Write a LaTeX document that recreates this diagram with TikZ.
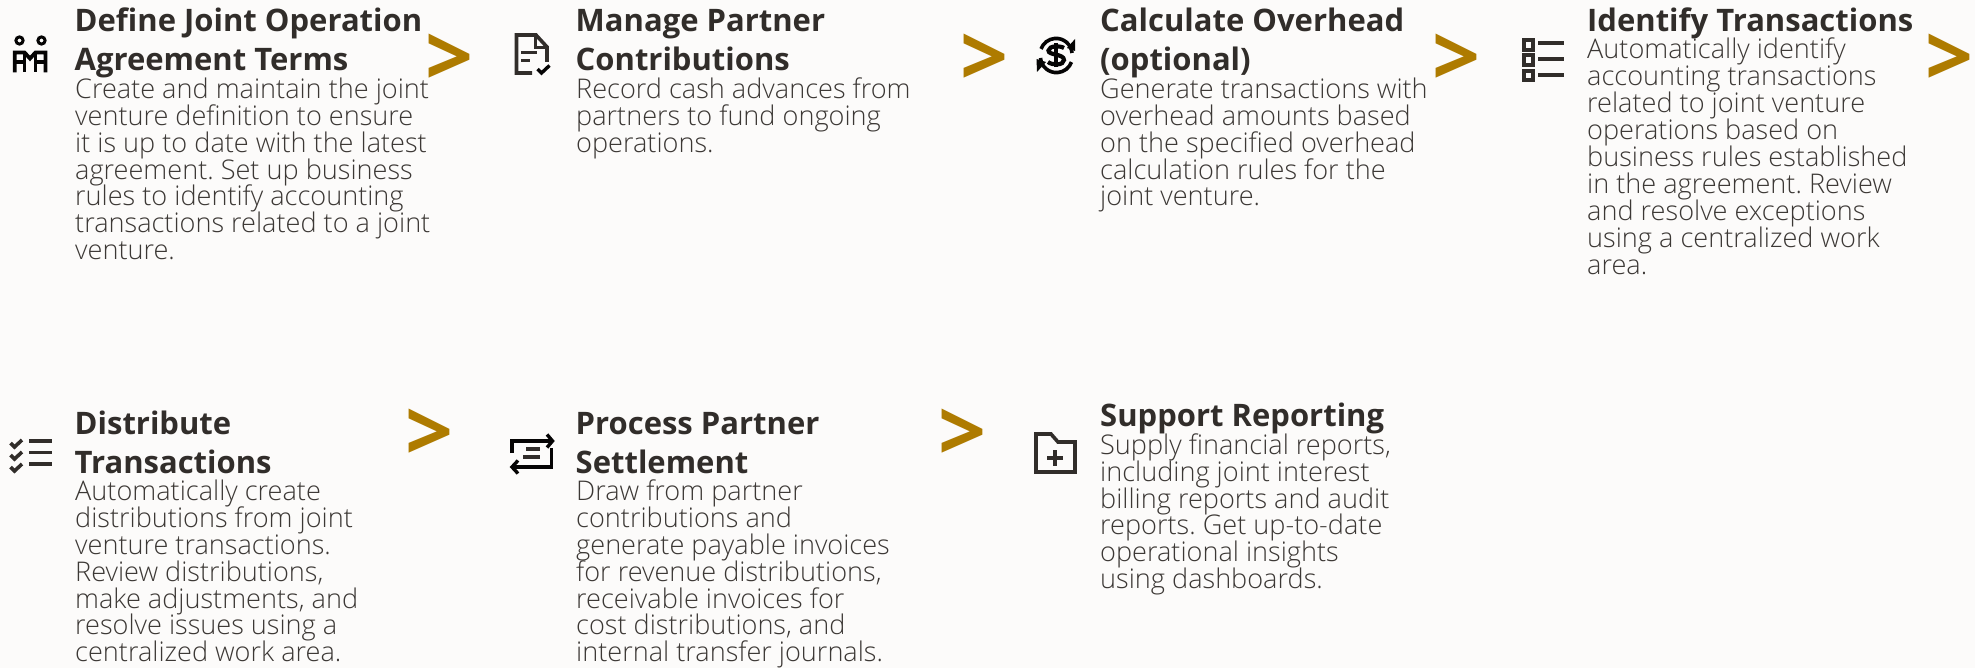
\documentclass[tikz,border=0pt]{standalone}
\usepackage{fontspec}
\setmainfont{Open Sans}
\newfontfamily\lightf{Open Sans Light}
\definecolor{bgc}{HTML}{FCFBFA}
\definecolor{ink}{HTML}{312D2A}
\definecolor{bodyc}{HTML}{3C3835}
\definecolor{gold}{HTML}{AE7B00}
\newcommand{\fl}{\rule{0pt}{30pt}}
\newcommand{\tightl}{\lineskiplimit=-100pt\relax}
\tikzset{
 title/.style={anchor=north west,inner sep=0pt,align=left,text=ink,font=\fontsize{31}{39}\selectfont\bfseries\frenchspacing\tightl},
 body/.style={anchor=north west,inner sep=0pt,align=left,text=bodyc,font=\fontsize{27.1}{26.9}\selectfont\lightf\frenchspacing\tightl},
 chev/.style={anchor=center,inner sep=0pt,text=gold,font=\fontsize{84}{84}\selectfont\bfseries},
 ic/.style={draw=ink,line width=3.6pt,fill=none,line cap=butt,line join=miter},
 icb/.style={draw=black!90!ink,line width=3.6pt,fill=none,line cap=butt,line join=miter},
}
\begin{document}
\begin{tikzpicture}[x=1pt,y=-1pt]
\useasboundingbox (0,0) rectangle (1975,668);
\fill[bgc] (0,0) rectangle (1975,668);
% --- texts (north west = first baseline - 30)
\node[title] (t1) at (74.5,1) {\fl Define Joint Operation\\Agreement Terms};
\node[body] (b1) at (75,68.2) {\fl Create and maintain the joint\\venture definition to ensure\\it is up to date with the latest\\agreement. Set up business\\rules to identify accounting\\transactions related to a joint\\venture.};
\node[title] (t2) at (575.5,1) {\fl Manage Partner\\Contributions};
\node[body] (b2) at (576,68.2) {\fl Record cash advances from\\partners to fund ongoing\\operations.};
\node[title] (t3) at (1100,1) {\fl Calculate Overhead\\(optional)};
\node[body] (b3) at (1100,68.2) {\fl Generate transactions with\\overhead amounts based\\on the specified overhead\\calculation rules for the\\joint venture.};
\node[title] (t4) at (1587,1) {\fl Identify Transactions};
\node[body] (b4) at (1587,28.8) {\fl Automatically identify\\accounting transactions\\related to joint venture\\operations based on\\business rules established\\in the agreement. Review\\and resolve exceptions\\using a centralized work\\area.};
\node[title] (t5) at (74.5,404) {\fl Distribute\\Transactions};
\node[body] (b5) at (75,470.2) {\fl Automatically create\\distributions from joint\\venture transactions.\\Review distributions,\\make adjustments, and\\resolve issues using a\\centralized work area.};
\node[title] (t6) at (575.5,404) {\fl Process Partner\\Settlement};
\node[body] (b6) at (576,470.2) {\fl Draw from partner\\contributions and\\generate payable invoices\\for revenue distributions,\\receivable invoices for\\cost distributions, and\\internal transfer journals.};
\node[title] (t7) at (1100,396) {\fl Support Reporting};
\node[body] (b7) at (1100,424) {\fl Supply financial reports,\\including joint interest\\billing reports and audit\\reports. Get up-to-date\\operational insights\\using dashboards.};
% --- chevrons
\node[chev] (a1) at (449,60) {>};
\node[chev] (a2) at (984.5,60) {>};
\node[chev] (a3) at (1456.5,60) {>};
\node[chev] (a4) at (1949.5,60) {>};
\node[chev] (a5) at (429.5,435.5) {>};
\node[chev] (a6) at (962,435.5) {>};
% --- icon 1: two people
\begin{scope}[icb,line width=3.8pt]
 \draw[line width=3pt] (19.5,40.5) circle (3.6);
 \draw[line width=3pt] (41.5,40.5) circle (3.6);
 \draw (14.8,72.5) -- (14.8,52.5) -- (24.5,52.5) -- (30,58.5) -- (35.5,52.5) -- (45.5,52.5) -- (45.5,72.5);
 \draw (24.5,52.5) -- (24.5,72.5);
 \draw (35.5,52.5) -- (35.5,72.5);
 \draw (14.8,62) -- (24.5,62);
 \draw (35.5,62) -- (45.5,62);
\end{scope}
% --- icon 2: document with check
\draw[ic] (532,73) -- (516.5,73) -- (516.5,35) -- (536,35) -- (547,47) -- (547,62);
\draw[ic,line width=3pt] (535.5,35) -- (535.5,47.5) -- (547,47.5);
\draw[ic,line width=3pt] (521,53) -- (537,53);
\draw[ic,line width=3pt] (521,61) -- (530,61);
\draw[icb,line width=3.4pt] (537.5,69) -- (541.5,73) -- (549.5,65.5);
% --- icon 3: dollar with cycle arrows
\begin{scope}[icb]
 \draw (1040.5,58) arc[start angle=175,end angle=20,radius=16];
 \draw (1072,53) arc[start angle=-5,end angle=-160,radius=16];
 \fill[black!90!ink,draw=none] (1067,48) -- (1075,39) -- (1075,51) -- cycle;
 \fill[black!90!ink,draw=none] (1036.5,59) -- (1046,62) -- (1037,72) -- cycle;
 \draw[line width=4.2pt] (1064,48) .. controls (1060,45.5) and (1049,45.5) .. (1048.5,50.5) .. controls (1048,55.5) and (1064,53.5) .. (1064,60) .. controls (1064,65.5) and (1052,65.5) .. (1048,62);
 \draw[line width=3.8pt] (1056,43) -- (1056,67.5);
\end{scope}
% --- icon 4: list
\begin{scope}[ic,line width=4pt]
 \draw (1524,40) rectangle (1532.5,50);
 \draw (1524,55.5) rectangle (1532.5,65);
 \draw (1524,71) rectangle (1532.5,80);
 \draw (1538,43.5) -- (1564,43.5);
 \draw (1538,59) -- (1564,59);
 \draw (1538,75) -- (1564,75);
\end{scope}
% --- icon 5: checked list
\begin{scope}[ic,line width=3.6pt]
 \draw (10.5,443) -- (14.5,447) -- (22,440);
 \draw (10.5,455) -- (14.5,459) -- (22,452);
 \draw (10.5,467) -- (14.5,471) -- (22,464);
 \draw (29,441) -- (52,441);
 \draw (29,452.5) -- (52,452.5);
 \draw (29,464) -- (52,464);
\end{scope}
% --- icon 6: settlement arrows
\begin{scope}[icb,line width=3.4pt]
 \draw (512,453) -- (512,441) -- (551,441);
 \draw (547,434.5) -- (552.5,441) -- (547,447.5);
 \draw (551.5,448) -- (551.5,467) -- (512,467);
 \draw (518,460.5) -- (512,467) -- (518,473.5);
 \draw[draw=ink] (526,449) -- (540,449);
 \draw[draw=ink] (523,457) -- (540,457);
\end{scope}
% --- icon 7: folder with plus
\begin{scope}[ic]
 \draw (1036,434) -- (1051,434) -- (1058,442) -- (1075,442) -- (1075,472) -- (1036,472) -- cycle;
 \draw (1047,458) -- (1063,458);
 \draw (1055,450) -- (1055,466);
\end{scope}
\end{tikzpicture}
\end{document}
